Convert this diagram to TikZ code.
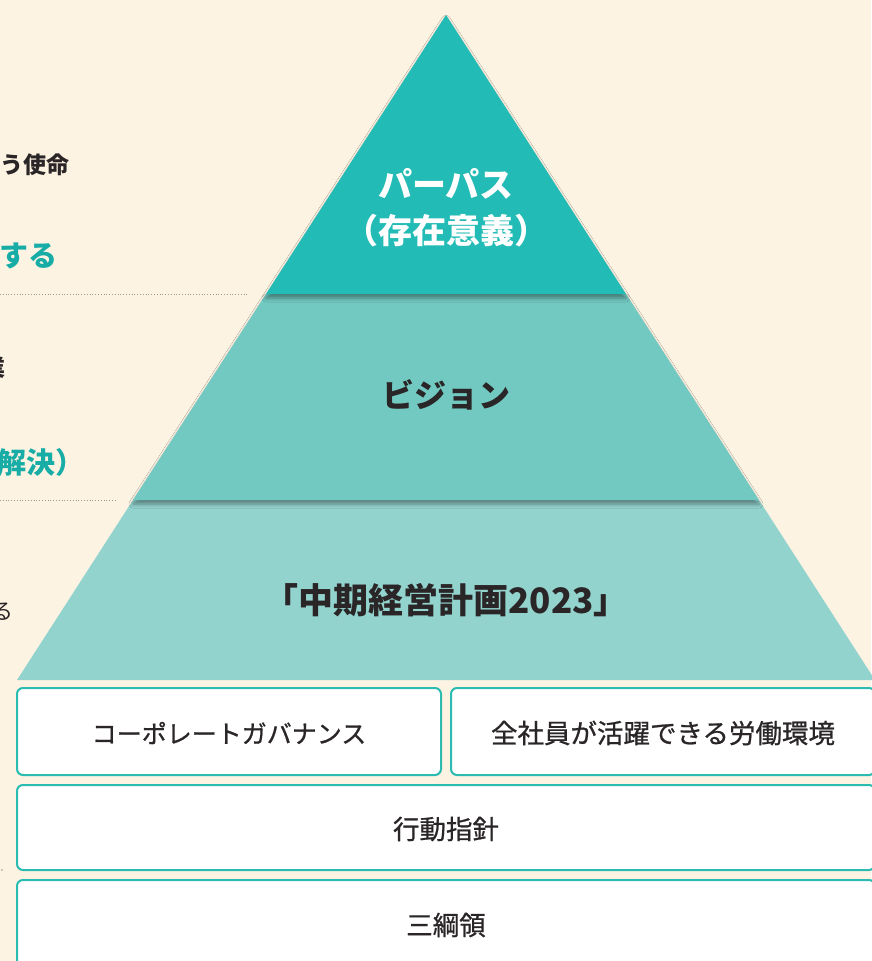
\documentclass[tikz,border=0pt]{standalone}
\usepackage{fontspec}
\setmainfont{Noto Sans CJK JP}
\newfontfamily\jpmed[FakeBold=0.8]{Noto Sans CJK JP}
\usetikzlibrary{shadows.blur}
\definecolor{bg}{HTML}{FDF3E3}
\definecolor{tierA}{HTML}{23BBB5}
\definecolor{tierB}{HTML}{72C9C2}
\definecolor{tierC}{HTML}{93D3CE}
\definecolor{boxline}{HTML}{2BBBB0}
\definecolor{ink}{HTML}{2A2526}
\definecolor{tealtext}{HTML}{17ADA6}
\definecolor{dotgray}{HTML}{9A9690}
\tikzset{
  tiershadow/.style={blur shadow={shadow xshift=0pt, shadow yshift=-4pt, shadow blur radius=4pt, shadow opacity=40}},
  boxstyle/.style={draw=boxline, line width=2pt, fill=white, rounded corners=6pt},
  boxtext/.style={font=\jpmed\fontsize{26.5}{30}\selectfont, text=ink, inner sep=0pt},
  tiertext/.style={font=\bfseries\fontsize{32}{46}\selectfont, inner sep=0pt, align=center},
  sidedark/.style={font=\bfseries\fontsize{23}{28}\selectfont, text=ink, inner sep=0pt, anchor=east},
  sideteal/.style={font=\bfseries\fontsize{29}{34}\selectfont, text=tealtext, inner sep=0pt, anchor=east},
  dotline/.style={dotgray, line width=0.8pt, dotted}
}
\begin{document}
\begin{tikzpicture}[x=1pt,y=-1pt]
\useasboundingbox (0,0) rectangle (871,961);
\fill[bg] (0,0) rectangle (871,961);

% left side fragments
\node[sidedark] (s1) at (70,165) {う使命};
\node[sideteal] (s2) at (58,256) {する};
\draw[dotline] (0,294) -- (248,294);
\node[sidedark] (s3) at (6,368) {業};
\node[sideteal] (s4) at (85,462) {解決）};
\draw[dotline] (0,500) -- (117,500);
\node[font=\fontsize{22}{26}\selectfont, text=ink, inner sep=0pt, anchor=east] (s5) at (14,612) {る};
\fill[dotgray] (2,870) circle (0.8);

% pyramid (bottom tier first)
\fill[tierC] (133,500) -- (759,500) -- (875,680) -- (17,680) -- cycle;
\fill[tierB, tiershadow] (266,294) -- (626,294) -- (759,500) -- (133,500) -- cycle;
\fill[tierA, tiershadow] (446,15) -- (626,294) -- (266,294) -- cycle;

\node[tiertext, text=white, font=\bfseries\fontsize{34}{46}\selectfont] (t1) at (446,208) {パーパス\\（存在意義）};
\node[tiertext, text=ink] (t2) at (446,395) {ビジョン};
\node[tiertext, text=ink, font=\bfseries\fontsize{35}{46}\selectfont] (t3) at (446,600) {「中期経営計画2023」};

% boxes
\draw[boxstyle] (17,688) rectangle (441,775);
\draw[boxstyle] (451,688) rectangle (875,775);
\draw[boxstyle] (17,785) rectangle (875,870);
\draw[boxstyle] (17,880) rectangle (875,975);

\node[boxtext, font=\jpmed\fontsize{25}{30}\selectfont] (b1) at (229,733) {コーポレートガバナンス};
\node[boxtext] (b2) at (663,733) {全社員が活躍できる労働環境};
\node[boxtext] (b3) at (446,829) {行動指針};
\node[boxtext] (b4) at (446,925) {三綱領};
\end{tikzpicture}
\end{document}
